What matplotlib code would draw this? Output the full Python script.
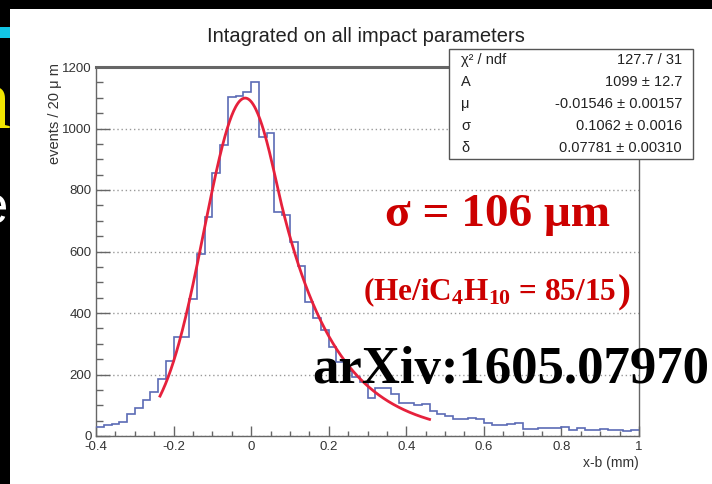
import numpy as np
import matplotlib
matplotlib.use("Agg")
import matplotlib.pyplot as plt
from matplotlib.patches import Rectangle
from matplotlib.ticker import MultipleLocator
from matplotlib.transforms import Bbox, TransformedBbox

# ---------------- data ----------------
bin_low, bin_high, bin_width = -0.4, 1.0, 0.02
bin_counts = [28, 36, 40, 46, 72, 92, 116, 142, 186, 244,
              322, 322, 444, 592, 712, 856, 946, 1102, 1106, 1120,
              1150, 973, 986, 728, 719, 630, 554, 437, 385, 344,
              290, 240, 212, 192, 175, 123, 156, 156, 135, 108,
              108, 100, 105, 82, 72, 66, 56, 55, 60, 56,
              42, 36, 36, 38, 42, 22, 22, 25, 27, 27,
              29, 20, 26, 20, 20, 23, 20, 20, 15, 21]

fit_A, fit_mu, fit_sigma, fit_delta = 1099.0, -0.01546, 0.1062, 0.07781
fit_range = (-0.235, 0.46)

stat_names = ["χ² / ndf", "A", "μ", "σ", "δ"]
stat_values = ["127.7 / 31", "1099 ± 12.7", "-0.01546 ± 0.00157",
               "0.1062 ± 0.0016", "0.07781 ± 0.00310"]

xticks = [-0.4, -0.2, 0, 0.2, 0.4, 0.6, 0.8, 1]
xticklabels = ["-0.4", "-0.2", "0", "0.2", "0.4", "0.6", "0.8", "1"]
yticks = [0, 200, 400, 600, 800, 1000, 1200]
yticklabels = ["0", "200", "400", "600", "800", "1000", "1200"]

title = "Intagrated on all impact parameters"
ylabel = "events / 20 μ m"
xlabel = "x-b (mm)"

# ---------------- style ----------------
plt.rcParams["font.family"] = ["Liberation Sans", "DejaVu Sans"]
plt.rcParams["mathtext.fontset"] = "custom"
plt.rcParams["mathtext.rm"] = "Liberation Serif:bold"
plt.rcParams["mathtext.it"] = "Liberation Serif:bold"
plt.rcParams["mathtext.bf"] = "Liberation Serif:bold"

W, H = 712, 484
fig = plt.figure(figsize=(W / 100, H / 100), dpi=100, facecolor="black")


def fx(px):
    return px / W


def fy(py):
    return 1 - py / H


# white slide area and cut-off slide elements on the left
fig.add_artist(Rectangle((fx(10), 0), 1 - fx(10), fy(9), transform=fig.transFigure,
                         facecolor="white", edgecolor="none", zorder=-5))
fig.add_artist(Rectangle((0, fy(38)), fx(10), 11 / H, transform=fig.transFigure,
                         facecolor="#12c6e6", edgecolor="none", zorder=-4))
clipbox = TransformedBbox(Bbox([[0, 0], [fx(10), 1]]), fig.transFigure)
t1 = fig.text(fx(10.5), fy(128), "n", color="#f2e600", fontsize=62,
              family="Liberation Serif", ha="right", va="baseline")
t1.set_clip_box(clipbox)
t2 = fig.text(fx(8.5), fy(223), "e", color="white", fontsize=38,
              family="Liberation Sans", ha="right", va="baseline")
t2.set_clip_box(clipbox)

# ---------------- axes ----------------
ax = fig.add_axes([fx(96), 1 - 436 / H, (639 - 96) / W, (436 - 67) / H])
ax.set_facecolor("white")
ax.set_xlim(bin_low, bin_high)
ax.set_ylim(0, 1200)

edges = np.linspace(bin_low, bin_high, len(bin_counts) + 1)
ax.stairs(bin_counts, edges, baseline=None, color="#5b6bb5", lw=1.2, zorder=3)

xf = np.linspace(fit_range[0], fit_range[1], 400)
t = xf - fit_mu
yf = np.where(t <= fit_delta,
              fit_A * np.exp(-t ** 2 / (2 * fit_sigma ** 2)),
              fit_A * np.exp(fit_delta ** 2 / (2 * fit_sigma ** 2) - fit_delta * t / fit_sigma ** 2))
ax.plot(xf, yf, color="#e6213c", lw=2, zorder=4)

ax.set_xticks(xticks)
ax.set_xticklabels(xticklabels)
ax.set_yticks(yticks)
ax.set_yticklabels(yticklabels)
ax.xaxis.set_minor_locator(MultipleLocator(0.05))
ax.yaxis.set_minor_locator(MultipleLocator(50))
ax.tick_params(which="both", direction="in", color="#666666", top=False, right=False,
               labelcolor="#333333", labelsize=9.5)
ax.tick_params(axis="y", which="major", length=10, width=1, pad=3)
ax.tick_params(axis="y", which="minor", length=5, width=1)
ax.tick_params(axis="x", which="major", length=7, width=1, pad=3.5)
ax.tick_params(axis="x", which="minor", length=3.6, width=1)

ax.yaxis.grid(True, which="major", linestyle=(0, (1, 2)), color="#999999", lw=1, zorder=1)
ax.set_axisbelow(True)
for s in ax.spines.values():
    s.set_color("#666666")
    s.set_linewidth(1)
ax.spines["top"].set_linewidth(2.2)

ax.set_ylabel(ylabel, loc="top", fontsize=10.5, color="#333333")
ax.yaxis.set_label_coords(-0.063, 1.012)
ax.set_xlabel(xlabel, loc="right", fontsize=10, color="#333333")
ax.xaxis.set_label_coords(1.0, -0.054)

fig.text(fx(366), fy(42), title, ha="center", va="baseline", fontsize=14.5, color="#222222")

# ---------------- stats box ----------------
bx0, bx1 = (449 - 96) / 543, (693 - 96) / 543
by0, by1 = (436 - 159) / 369, (436 - 49) / 369
ax.add_patch(Rectangle((bx0, by0), bx1 - bx0, by1 - by0, transform=ax.transAxes,
                       facecolor="white", edgecolor="#555555", lw=1, clip_on=False, zorder=6))
row_y = [60, 82, 104, 126, 148]
for name, val, ry in zip(stat_names, stat_values, row_y):
    yy = (436 - ry) / 369
    ax.text((461 - 96) / 543, yy, name, transform=ax.transAxes, ha="left", va="center",
            fontsize=10.5, color="#222222", zorder=7)
    ax.text((682 - 96) / 543, yy, val, transform=ax.transAxes, ha="right", va="center",
            fontsize=10.5, color="#222222", zorder=7)

# ---------------- slide annotations ----------------
red = "#cc0000"
fig.text(fx(497.5), fy(226), "σ = 106 μm", ha="center", va="baseline", color=red,
         fontsize=34, fontweight="bold", family="Liberation Serif", zorder=10)
t_he = fig.text(fx(363), fy(300), r"(He/iC$_4$H$_{10}$ = 85/15", ha="left", va="baseline",
                color=red, fontsize=22.5, fontweight="bold", family="Liberation Serif", zorder=10)
fig.canvas.draw()
ax.annotate(")", xy=(1.0, H - 302), xycoords=(t_he, "figure pixels"),
            xytext=(1.0, 0), textcoords="offset points", ha="left", va="baseline",
            color=red, fontsize=28, fontweight="bold", family="Liberation Serif",
            annotation_clip=False, zorder=10)
fig.text(fx(312), fy(383), "arXiv:1605.07970", ha="left", va="baseline", color="black",
         fontsize=38, fontweight="bold", family="Liberation Serif", zorder=10)

fig.savefig("out.png", dpi=100, facecolor=fig.get_facecolor())
